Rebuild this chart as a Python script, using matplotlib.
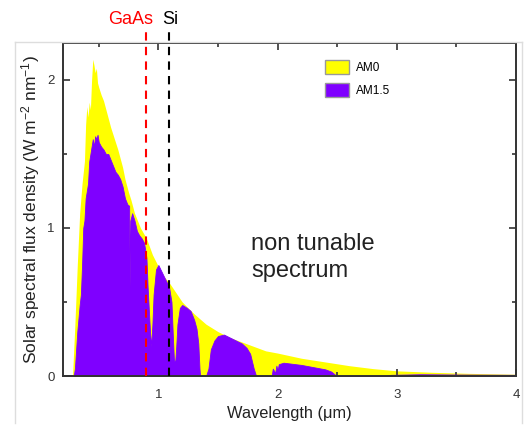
import matplotlib
matplotlib.use('Agg')
import matplotlib.pyplot as plt
from matplotlib.lines import Line2D
from matplotlib.patches import Patch
import numpy as np

plt.rcParams['font.family'] = ['Liberation Sans', 'DejaVu Sans']
plt.rcParams['mathtext.fontset'] = 'custom'
plt.rcParams['mathtext.rm'] = 'Liberation Sans'
plt.rcParams['mathtext.it'] = 'Liberation Sans:italic'

# extraterrestrial spectrum (AM0), wavelength in um, flux in W m-2 nm-1
am0_wl = [0.28, 0.30, 0.32, 0.34, 0.36, 0.38, 0.39, 0.40, 0.41, 0.42, 0.43, 0.44,
          0.45, 0.46, 0.47, 0.48, 0.49, 0.50, 0.52, 0.54, 0.56, 0.58, 0.60, 0.62,
          0.64, 0.66, 0.68, 0.70, 0.72, 0.75, 0.77, 0.80, 0.85, 0.90, 0.95, 1.00,
          1.05, 1.10, 1.20, 1.30, 1.40, 1.50, 1.60, 1.70, 1.80, 1.90, 2.00, 2.20,
          2.40, 2.60, 2.80, 3.00, 3.30, 3.60, 4.00]
am0_flux = [0.0, 0.35, 0.75, 1.10, 1.30, 1.45, 1.70, 1.82, 1.75, 1.85, 1.80, 2.00,
            2.14, 2.10, 2.05, 2.08, 1.98, 1.95, 1.90, 1.86, 1.80, 1.74, 1.68, 1.63,
            1.58, 1.53, 1.47, 1.41, 1.33, 1.24, 1.19, 1.10, 1.00, 0.93, 0.82, 0.74,
            0.67, 0.62, 0.50, 0.42, 0.35, 0.30, 0.26, 0.23, 0.20, 0.17, 0.155, 0.12,
            0.095, 0.07, 0.05, 0.035, 0.025, 0.018, 0.012]

# ground level spectrum (AM1.5)
am15_wl = [0.29, 0.30, 0.32, 0.34, 0.35, 0.36, 0.37, 0.38, 0.39, 0.40, 0.41, 0.42,
           0.43, 0.44, 0.45, 0.46, 0.47, 0.48, 0.49, 0.50, 0.52, 0.54, 0.56, 0.58,
           0.60, 0.62, 0.64, 0.66, 0.68, 0.70, 0.72, 0.74, 0.755, 0.760, 0.765, 0.78,
           0.80, 0.82, 0.84, 0.86, 0.88, 0.90, 0.91, 0.93, 0.94, 0.95, 0.96, 0.98,
           1.00, 1.03, 1.06, 1.09, 1.11, 1.12, 1.13, 1.14, 1.15, 1.16, 1.18, 1.20,
           1.24, 1.27, 1.30, 1.32, 1.335, 1.345, 1.35, 1.40, 1.42, 1.44, 1.47, 1.50,
           1.55, 1.60, 1.65, 1.70, 1.74, 1.77, 1.80, 1.82, 1.95, 1.96, 1.98, 1.99,
           2.00, 2.01, 2.05, 2.10, 2.20, 2.30, 2.40, 2.45, 2.48, 2.50, 2.90, 2.95,
           3.20, 3.50, 4.00]
am15_flux = [0.0, 0.05, 0.30, 0.48, 0.55, 0.75, 1.00, 1.05, 1.20, 1.25, 1.30, 1.45,
             1.50, 1.55, 1.60, 1.55, 1.62, 1.60, 1.63, 1.58, 1.55, 1.53, 1.50, 1.50,
             1.46, 1.42, 1.38, 1.36, 1.33, 1.28, 1.20, 1.16, 1.15, 0.60, 1.05, 1.10,
             1.05, 0.98, 0.95, 0.93, 0.90, 0.80, 0.60, 0.30, 0.20, 0.35, 0.55, 0.72,
             0.75, 0.70, 0.65, 0.60, 0.50, 0.30, 0.12, 0.08, 0.20, 0.35, 0.46, 0.48,
             0.46, 0.44, 0.38, 0.32, 0.22, 0.05, 0.0, 0.0, 0.05, 0.18, 0.24, 0.27,
             0.28, 0.26, 0.24, 0.22, 0.19, 0.15, 0.05, 0.0, 0.0, 0.05, 0.02, 0.07,
             0.04, 0.08, 0.09, 0.085, 0.075, 0.06, 0.045, 0.03, 0.01, 0.0, 0.0, 0.008,
             0.012, 0.010, 0.008]

# band gap cut-off wavelengths (um)
gap_names = ['GaAs', 'Si']
gap_wl = [0.9, 1.09]
gap_colors = ['#ff0000', '#000000']

fig = plt.figure(figsize=(5.31, 4.32), dpi=100)
ax = fig.add_axes([0.1186, 0.1296, 0.8532, 0.7709])

# faint frame around the plot
frame_kw = dict(color='#dddddd', lw=1.0, transform=fig.transFigure)
fig.add_artist(Line2D([0.028, 0.028], [0.02, 0.903], **frame_kw))
fig.add_artist(Line2D([0.028, 0.983], [0.903, 0.903], **frame_kw))
fig.add_artist(Line2D([0.983, 0.983], [0.02, 0.903], **frame_kw))

yellow = '#ffff00'
purple = '#7f00ff'
ax.fill_between(am0_wl, 0, am0_flux, color=yellow, lw=0, zorder=1)
ax.fill_between(am15_wl, 0, am15_flux, color=purple, lw=0.6, edgecolor=purple, zorder=2)

for name, wl, c in zip(gap_names, gap_wl, gap_colors):
    ax.plot([wl, wl], [0, 2.33], ls=(0, (4, 3)), color=c, lw=1.5, clip_on=False, zorder=4)

ax.text(0.77, 2.41, 'GaAs', color='#ff0000', fontsize=13, ha='center', va='center')
ax.text(1.1, 2.41, 'Si', color='black', fontsize=13, ha='center', va='center')

ax.text(1.78, 0.8, 'non tunable\nspectrum', fontsize=17, ha='left', va='center',
        linespacing=1.3, color='#222222')

ax.set_xlim(0.2, 4)
ax.set_ylim(0, 2.25)
ax.set_xticks([1, 2, 3, 4])
ax.set_xticks([0.5, 1.5, 2.5, 3.5], minor=True)
ax.set_yticks([0, 1, 2])
ax.set_yticks([0.5, 1.5], minor=True)
ax.tick_params(which='both', direction='in', top=True, right=True, labelsize=9.5,
               colors='#333333', width=1.2)
ax.tick_params(which='major', length=5)
ax.tick_params(which='minor', length=3)
ax.tick_params(axis='x', which='major', pad=9)
ax.tick_params(axis='y', which='major', pad=6)
for s in ax.spines.values():
    s.set_linewidth(1.4)
    s.set_color('#333333')

ax.set_xlabel('Wavelength (\u03bcm)', fontsize=11.8, color='#222222', labelpad=4)
ax.set_ylabel('Solar spectral flux density (W m$^{-2}$ nm$^{-1}$)', fontsize=12.5,
              color='#222222', labelpad=4)

handles = [Patch(facecolor=yellow, edgecolor='#999999', label='AM0'),
           Patch(facecolor=purple, edgecolor='#999999', label='AM1.5')]
ax.legend(handles=handles, loc='upper left', bbox_to_anchor=(0.555, 0.98), frameon=False,
          fontsize=8.5, handlelength=2.0, handleheight=1.4, labelspacing=0.75,
          handletextpad=0.6)

fig.savefig('out.png', dpi=100)
